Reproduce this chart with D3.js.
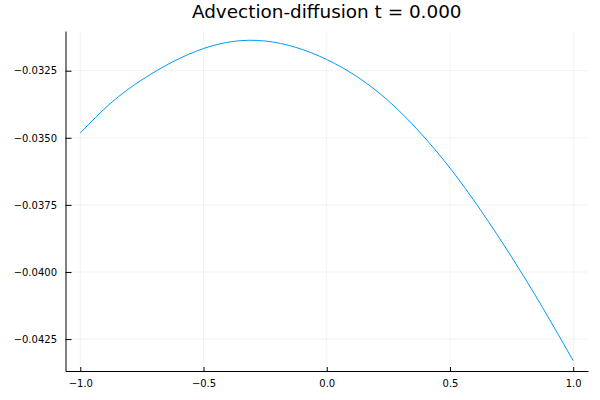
<!DOCTYPE html>
<html>
<head>
<meta charset="utf-8">
<script src="https://cdn.jsdelivr.net/npm/d3@7"></script>
<style>
  html, body { margin: 0; padding: 0; background: #fff; }
  svg { display: block; }
</style>
</head>
<body>
<svg id="chart" width="600" height="400"></svg>
<script>
const title = "Advection-diffusion t = 0.000";
const xValues = [-1, -0.875, -0.75, -0.625, -0.5, -0.375, -0.25, -0.125, 0, 0.125, 0.25, 0.375, 0.5, 0.625, 0.75, 0.875, 1];
const yValues = [-0.034822, -0.033696, -0.032839, -0.032168, -0.031673, -0.031404, -0.031393, -0.031632, -0.032083, -0.032735, -0.033622, -0.034766, -0.036126, -0.037703, -0.039443, -0.041314, -0.043308];
const xDomain = [-1.06, 1.06];
const yDomain = [-0.04369, -0.03102];
const xTicks = [-1.0, -0.5, 0.0, 0.5, 1.0];
const xTickLabels = ["\u22121.0", "\u22120.5", "0.0", "0.5", "1.0"];
const yTicks = [-0.0325, -0.0350, -0.0375, -0.0400, -0.0425];
const yTickLabels = ["\u22120.0325", "\u22120.0350", "\u22120.0375", "\u22120.0400", "\u22120.0425"];

(function () {
const svg = d3.select("#chart");
const mLeft = 65.5, mRight = 588, mTop = 31, mBottom = 371;
const font = "DejaVu Sans, sans-serif";

const x = d3.scaleLinear().domain(xDomain).range([mLeft, mRight]);
const y = d3.scaleLinear().domain(yDomain).range([mBottom, mTop]);

// grid
const grid = svg.append("g").attr("stroke", "rgba(0,0,0,0.1)").attr("stroke-width", 0.5);
grid.selectAll("line.v").data(xTicks).join("line").attr("class", "v")
  .attr("x1", d => x(d)).attr("x2", d => x(d))
  .attr("y1", mTop).attr("y2", mBottom);
grid.selectAll("line.h").data(yTicks).join("line").attr("class", "h")
  .attr("x1", mLeft).attr("x2", mRight)
  .attr("y1", d => y(d)).attr("y2", d => y(d));

// series
const line = d3.line().x((d, i) => x(xValues[i])).y(d => y(d)).curve(d3.curveNatural);
svg.append("path").datum(yValues)
  .attr("fill", "none")
  .attr("stroke", "#009AFA")
  .attr("stroke-width", 1)
  .attr("d", line);

// axes
const xAxis = d3.axisBottom(x).tickValues(xTicks)
  .tickFormat((d, i) => xTickLabels[i]).tickSizeInner(-4).tickSizeOuter(0).tickPadding(8.6);
const yAxis = d3.axisLeft(y).tickValues(yTicks)
  .tickFormat((d, i) => yTickLabels[i]).tickSizeInner(-6).tickSizeOuter(0).tickPadding(8.5);

const gx = svg.append("g").attr("transform", `translate(0,${mBottom})`).call(xAxis);
const gy = svg.append("g").attr("transform", `translate(${mLeft},0)`).call(yAxis);
[gx, gy].forEach(g => {
  g.select(".domain").attr("stroke", "#000").attr("stroke-width", 1);
  g.selectAll(".tick line").attr("stroke", "#000").attr("stroke-width", 1);
  g.selectAll(".tick text").attr("fill", "#000").style("font-family", font).style("font-size", "10px");
});

// title
svg.append("text")
  .attr("x", (mLeft + mRight) / 2).attr("y", 18.3)
  .attr("text-anchor", "middle")
  .style("font-family", font).style("font-size", "18.4px")
  .attr("fill", "#000")
  .text(title);
})();
</script>
</body>
</html>
